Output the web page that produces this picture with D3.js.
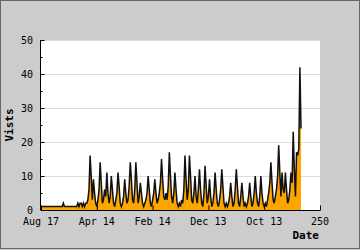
<!DOCTYPE html>
<html>
<head>
<meta charset="utf-8">
<script src="https://cdn.jsdelivr.net/npm/d3@7"></script>
<style>
  body { margin: 0; background: #cccccc; }
  svg { display: block; }
  text { font-family: "DejaVu Sans Mono", monospace; }
</style>
</head>
<body>
<svg id="chart"></svg>
<script>
// daily visits
const visits = [
  1,1,1,1,1,1,1,1,1,1,1,1,1,1,1,1,1,1,1,1,
  2,1,1,1,1,1,1,1,1,1,1,1,1,
  2,1,2,2,1,2,1,2,
  2,3,6,16,10,3,9,5,2,1,3,6,14,8,2,3,6,4,11,5,
  2,4,10,6,2,1,3,5,11,7,2,1,2,4,9,5,2,3,7,14,
  9,3,2,6,14,8,2,4,8,5,2,1,2,3,5,10,6,2,1,3,
  5,9,5,2,3,5,8,15,9,4,3,5,3,7,17,10,4,2,5,11,
  6,2,1,2,1,3,2,6,16,9,3,6,16,10,3,2,5,10,4,2,
  6,12,6,2,1,5,13,7,2,4,9,4,1,2,5,11,6,2,1,3,
  6,12,7,2,1,2,1,2,4,8,4,1,2,6,12,7,2,1,4,8,
  4,1,2,1,2,4,8,4,1,2,5,10,5,2,1,4,10,5,2,1,
  2,1,3,5,8,14,8,3,2,4,6,10,19,11,4,11,6,5,11,6,
  2,3,6,11,8,23,12,4,17,16,18,42,24
];
const xTicks = [0, 50, 100, 150, 200, 250];
const xTickLabels = ["Aug 17", "Apr 14", "Feb 14", "Dec 13", "Oct 13", "250"];
const yTicks = [0, 10, 20, 30, 40, 50];
const yMinorTicks = [5, 15, 25, 35, 45];

const width = 360, height = 250;
const plotLeft = 41, plotRight = 320, plotTop = 40, plotBottom = 210;

const svg = d3.select("#chart").attr("width", width).attr("height", height);

svg.append("rect")
  .attr("x", 0.5).attr("y", 0.5)
  .attr("width", width - 1).attr("height", 248)
  .attr("fill", "#cccccc").attr("stroke", "#666");

svg.append("rect")
  .attr("x", plotLeft).attr("y", plotTop)
  .attr("width", plotRight - plotLeft).attr("height", plotBottom - plotTop)
  .attr("fill", "#fff");

const x = d3.scaleLinear().domain([0, 250]).range([plotLeft, plotRight]);
const y = d3.scaleLinear().domain([0, 50]).range([plotBottom, plotTop]);

// grid
svg.append("g")
  .selectAll("line")
  .data(yTicks.filter(d => d > 0))
  .enter()
  .append("line")
  .attr("x1", plotLeft).attr("x2", plotRight)
  .attr("y1", d => Math.round(y(d)) + 0.5)
  .attr("y2", d => Math.round(y(d)) + 0.5)
  .attr("stroke", "#dddddd");

const area = d3.area()
  .x((d, i) => x(i))
  .y0(y(0))
  .y1(d => y(d));

const line = d3.line()
  .x((d, i) => x(i))
  .y(d => y(d));

svg.append("path")
  .datum(visits)
  .attr("d", area)
  .attr("fill", "#ffa500");

svg.append("path")
  .datum(visits)
  .attr("d", line)
  .attr("fill", "none")
  .attr("stroke", "#111")
  .attr("stroke-width", 1.5);

// axes with inward ticks
const xAxis = d3.axisTop(x)
  .tickValues(xTicks)
  .tickSize(5)
  .tickFormat("");

const gx = svg.append("g")
  .attr("transform", `translate(0, ${plotBottom + 0.5})`)
  .call(xAxis);
gx.select(".domain").attr("d", `M${plotLeft},0H${plotRight}`);

svg.append("g")
  .selectAll("text")
  .data(xTicks)
  .enter()
  .append("text")
  .attr("x", d => x(d))
  .attr("y", 225)
  .attr("text-anchor", "middle")
  .attr("font-size", 10)
  .text((d, i) => xTickLabels[i]);

const yAxis = d3.axisRight(y)
  .tickValues(yTicks)
  .tickSize(4)
  .tickFormat("");

const gy = svg.append("g")
  .attr("transform", `translate(${plotLeft - 0.5}, 0)`)
  .call(yAxis);
gy.select(".domain").attr("d", `M0,${plotTop}V${plotBottom}`);

svg.append("g")
  .attr("transform", `translate(${plotLeft - 0.5}, 0)`)
  .call(d3.axisRight(y).tickValues(yMinorTicks).tickSize(2).tickFormat(""))
  .select(".domain").remove();

svg.append("g")
  .selectAll("text")
  .data(yTicks)
  .enter()
  .append("text")
  .attr("x", 33)
  .attr("y", d => y(d) + 3.5)
  .attr("text-anchor", "end")
  .attr("font-size", 10)
  .text(d => d);

svg.append("text")
  .attr("x", 319)
  .attr("y", 239)
  .attr("text-anchor", "end")
  .attr("font-size", 11)
  .attr("font-weight", "bold")
  .text("Date");

svg.append("text")
  .attr("transform", "translate(13, 125) rotate(-90)")
  .attr("text-anchor", "middle")
  .attr("font-size", 11)
  .attr("font-weight", "bold")
  .text("Vists");
</script>
</body>
</html>
